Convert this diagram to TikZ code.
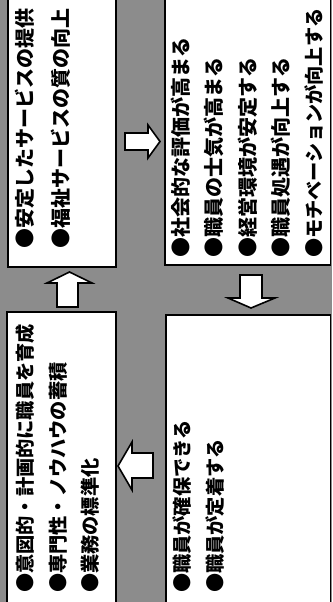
\documentclass[tikz,border=0pt]{standalone}
\usepackage{fontspec}
\newfontfamily\jp{Noto Sans CJK JP}
\begin{document}
\begin{tikzpicture}[x=1pt,y=-1pt,
  box/.style={draw=black,line width=1.8pt,fill=white},
  blockarrow/.style={draw=black,line width=1.6pt,fill=white,line join=miter},
  item/.style={rotate=90,anchor=west,inner sep=0pt,font=\jp\bfseries\fontsize{20}{20}\selectfont},
  itemsmall/.style={item,font=\jp\bfseries\fontsize{19.2}{20}\selectfont}]
\useasboundingbox (0,0) rectangle (332,602);
\clip (0,0) rectangle (332,602);
\fill[black!45] (0,0) rectangle (332,602);
% boxes
\draw[box] (8,-5) rectangle (116,267);
\draw[box] (165,-5) rectangle (330.5,265);
\draw[box] (7,312) rectangle (116,610);
\draw[box] (166,315) rectangle (330.5,610);
% block arrows
\draw[blockarrow] (125,133) -- (148,133) -- (148,125) -- (160,141.5) -- (148,158) -- (148,150) -- (125,150) -- cycle;
\draw[blockarrow] (240,275) -- (262,275) -- (262,298) -- (275,298) -- (251,308) -- (228,298) -- (240,298) -- cycle;
\draw[blockarrow] (153,453) -- (132,453) -- (132,442) -- (118,466) -- (132,490) -- (132,478) -- (153,478) -- cycle;
\draw[blockarrow] (57,307) -- (57,283) -- (47,283) -- (69.5,272) -- (92,283) -- (78,283) -- (78,307) -- cycle;
% texts
\node[item] (tl1) at (25,249) {●安定したサービスの提供};
\node[item] (tl2) at (61,249) {●福祉サービスの質の向上};
\node[item] (tr1) at (181,258) {●社会的な評価が高まる};
\node[item] (tr2) at (214,258) {●職員の士気が高まる};
\node[item] (tr3) at (248,258) {●経営環境が安定する};
\node[item] (tr4) at (281,258) {●職員処遇が向上する};
\node[itemsmall] (tr5) at (314,258) {●モチベーションが向上する};
\node[itemsmall] (bl1) at (25,593) {●意図的・計画的に職員を育成};
\node[itemsmall] (bl2) at (58,593) {●専門性・ノウハウの蓄積};
\node[itemsmall] (bl3) at (90,593) {●業務の標準化};
\node[itemsmall] (br1) at (182,593) {●職員が確保できる};
\node[itemsmall] (br2) at (215,593) {●職員が定着する};
\end{tikzpicture}
\end{document}
